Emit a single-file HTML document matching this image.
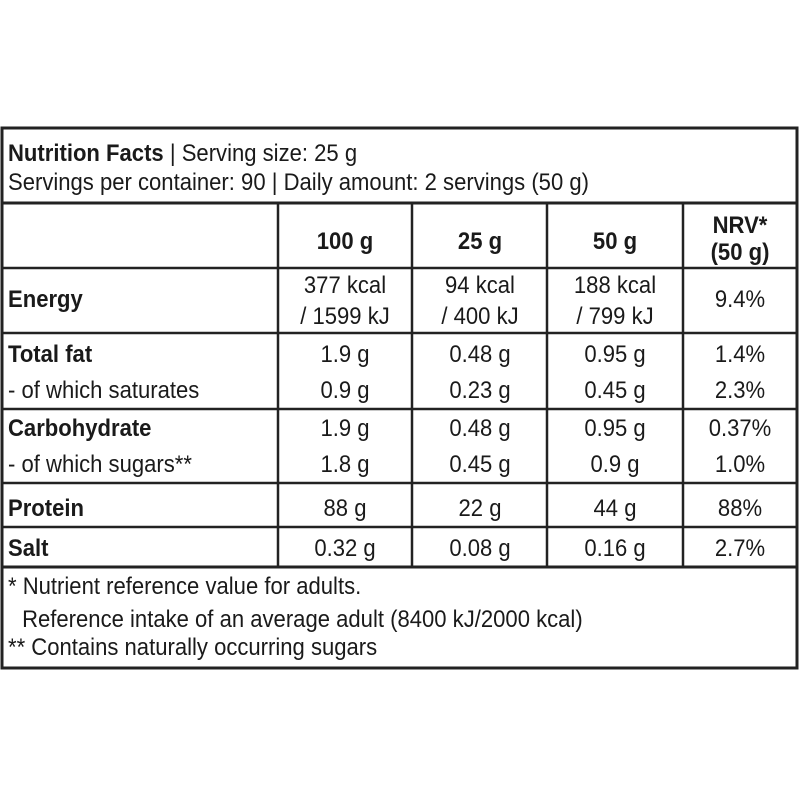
<!DOCTYPE html>
<html><head><style>
html,body{margin:0;padding:0;background:#fff;}
svg{display:block;}
text{font-family:"Liberation Sans",sans-serif;font-size:24px;fill:#1a1a1a;}
.b{font-weight:bold;}
</style></head><body>
<svg width="800" height="800" viewBox="0 0 800 800">
<g stroke="#222" fill="none">
<rect x="2" y="128" width="795" height="540" stroke-width="3"/>
<line x1="2" y1="203" x2="797" y2="203" stroke-width="3"/>
<line x1="2" y1="268" x2="797" y2="268" stroke-width="2.5"/>
<line x1="2" y1="333" x2="797" y2="333" stroke-width="2.5"/>
<line x1="2" y1="409" x2="797" y2="409" stroke-width="2.5"/>
<line x1="2" y1="483" x2="797" y2="483" stroke-width="2.5"/>
<line x1="2" y1="527" x2="797" y2="527" stroke-width="2.5"/>
<line x1="2" y1="567" x2="797" y2="567" stroke-width="3"/>
<line x1="278" y1="203" x2="278" y2="567" stroke-width="2.5"/>
<line x1="412" y1="203" x2="412" y2="567" stroke-width="2.5"/>
<line x1="547" y1="203" x2="547" y2="567" stroke-width="2.5"/>
<line x1="683" y1="203" x2="683" y2="567" stroke-width="2.5"/>
</g>
<g transform="scale(0.92,1)">
<text x="8.7" y="161"><tspan class="b">Nutrition Facts</tspan> | Serving size: 25 g</text>
<text x="8.7" y="190">Servings per container: 90 | Daily amount: 2 servings (50 g)</text>
<text x="8.7" y="307" class="b">Energy</text>
<text x="8.7" y="362" class="b">Total fat</text>
<text x="8.7" y="398">- of which saturates</text>
<text x="8.7" y="436" class="b">Carbohydrate</text>
<text x="8.7" y="472">- of which sugars**</text>
<text x="8.7" y="516" class="b">Protein</text>
<text x="8.7" y="556" class="b">Salt</text>
<text x="8.7" y="594">* Nutrient reference value for adults.</text>
<text x="24" y="627">Reference intake of an average adult (8400 kJ/2000 kcal)</text>
<text x="8.7" y="655">** Contains naturally occurring sugars</text>
</g>
<g text-anchor="middle">
<g transform="translate(345,0) scale(0.92,1)">
<text x="0" y="249" class="b">100 g</text>
<text x="0" y="293">377 kcal</text><text x="0" y="324">/ 1599 kJ</text>
<text x="0" y="362">1.9 g</text><text x="0" y="398">0.9 g</text>
<text x="0" y="436">1.9 g</text><text x="0" y="472">1.8 g</text>
<text x="0" y="516">88 g</text><text x="0" y="556">0.32 g</text>
</g>
<g transform="translate(480,0) scale(0.92,1)">
<text x="0" y="249" class="b">25 g</text>
<text x="0" y="293">94 kcal</text><text x="0" y="324">/ 400 kJ</text>
<text x="0" y="362">0.48 g</text><text x="0" y="398">0.23 g</text>
<text x="0" y="436">0.48 g</text><text x="0" y="472">0.45 g</text>
<text x="0" y="516">22 g</text><text x="0" y="556">0.08 g</text>
</g>
<g transform="translate(615,0) scale(0.92,1)">
<text x="0" y="249" class="b">50 g</text>
<text x="0" y="293">188 kcal</text><text x="0" y="324">/ 799 kJ</text>
<text x="0" y="362">0.95 g</text><text x="0" y="398">0.45 g</text>
<text x="0" y="436">0.95 g</text><text x="0" y="472">0.9 g</text>
<text x="0" y="516">44 g</text><text x="0" y="556">0.16 g</text>
</g>
<g transform="translate(740,0) scale(0.92,1)">
<text x="0" y="233" class="b">NRV*</text><text x="0" y="260" class="b">(50 g)</text>
<text x="0" y="307">9.4%</text>
<text x="0" y="362">1.4%</text><text x="0" y="398">2.3%</text>
<text x="0" y="436">0.37%</text><text x="0" y="472">1.0%</text>
<text x="0" y="516">88%</text><text x="0" y="556">2.7%</text>
</g>
</g>
</svg>
</body></html>
